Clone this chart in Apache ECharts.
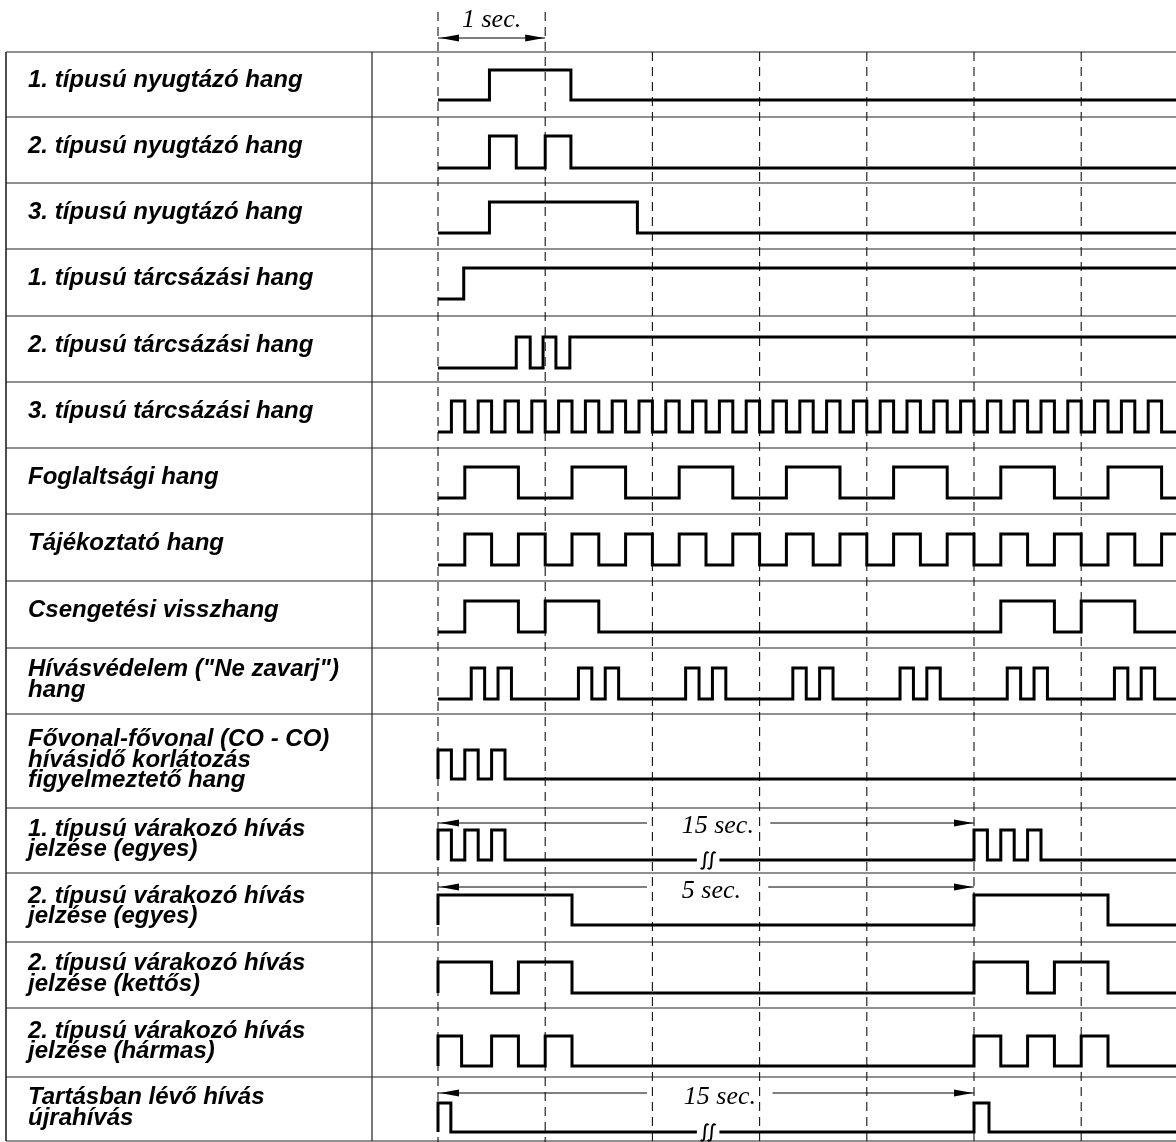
<!DOCTYPE html>
<html>
<head>
<meta charset="utf-8">
<script src="https://cdn.jsdelivr.net/npm/echarts@6/dist/echarts.min.js"></script>
<style>
  html, body { margin: 0; padding: 0; background: #fff; }
  #chart { width: 1176px; height: 1142px; }
</style>
</head>
<body>
<div id="chart"></div>
<script>
// ---- data: row names and the times (seconds) at which each signal toggles, starting low ----
const rowLabels = [
  '1. típusú nyugtázó hang',
  '2. típusú nyugtázó hang',
  '3. típusú nyugtázó hang',
  '1. típusú tárcsázási hang',
  '2. típusú tárcsázási hang',
  '3. típusú tárcsázási hang',
  'Foglaltsági hang',
  'Tájékoztató hang',
  'Csengetési visszhang',
  'Hívásvédelem ("Ne zavarj")\nhang',
  'Fővonal-fővonal (CO - CO)\nhívásidő korlátozás\nfigyelmeztető hang',
  '1. típusú várakozó hívás\njelzése (egyes)',
  '2. típusú várakozó hívás\njelzése (egyes)',
  '2. típusú várakozó hívás\njelzése (kettős)',
  '2. típusú várakozó hívás\njelzése (hármas)',
  'Tartásban lévő hívás\nújrahívás'
]

const ack1Edges = [0.48, 1.24]
const ack2Edges = [0.48, 0.73, 1.0, 1.24]
const ack3Edges = [0.48, 1.86]
const dial1Edges = [0.24]
const dial2Edges = [0.73, 0.86, 0.98, 1.1, 1.23]
const dial3Edges = [
  0.125, 0.25, 0.375, 0.5, 0.625, 0.75, 0.875, 1.0,
  1.125, 1.25, 1.375, 1.5, 1.625, 1.75, 1.875, 2.0,
  2.125, 2.25, 2.375, 2.5, 2.625, 2.75, 2.875, 3.0,
  3.125, 3.25, 3.375, 3.5, 3.625, 3.75, 3.875, 4.0,
  4.125, 4.25, 4.375, 4.5, 4.625, 4.75, 4.875, 5.0,
  5.125, 5.25, 5.375, 5.5, 5.625, 5.75, 5.875, 6.0,
  6.125, 6.25, 6.375, 6.5, 6.625, 6.75
]
const busyEdges = [0.25, 0.75, 1.25, 1.75, 2.25, 2.75, 3.25, 3.75, 4.25, 4.75, 5.25, 5.75, 6.25, 6.75]
const infoEdges = [
  0.25, 0.5, 0.75, 1.0, 1.25, 1.5, 1.75, 2.0, 2.25, 2.5, 2.75, 3.0, 3.25, 3.5,
  3.75, 4.0, 4.25, 4.5, 4.75, 5.0, 5.25, 5.5, 5.75, 6.0, 6.25, 6.5, 6.75
]
const ringbackEdges = [0.25, 0.75, 1.0, 1.5, 5.25, 5.75, 6.0, 6.5]
const dndEdges = [
  0.31, 0.435, 0.56, 0.685, 1.31, 1.435, 1.56, 1.685, 2.31, 2.435, 2.56, 2.685,
  3.31, 3.435, 3.56, 3.685, 4.31, 4.435, 4.56, 4.685, 5.31, 5.435, 5.56, 5.685,
  6.31, 6.435, 6.56, 6.685
]
const coWarnEdges = [0, 0.125, 0.25, 0.375, 0.5, 0.625]
const wait1Edges = [0, 0.125, 0.25, 0.375, 0.5, 0.625, 5.0, 5.125, 5.25, 5.375, 5.5, 5.625]
const wait2SingleEdges = [0, 1.25, 5.0, 6.25]
const wait2DoubleEdges = [0, 0.5, 0.75, 1.25, 5.0, 5.5, 5.75, 6.25]
const wait2TripleEdges = [0, 0.22, 0.5, 0.75, 1.0, 1.25, 5.0, 5.25, 5.5, 5.75, 6.0, 6.25]
const holdRecallEdges = [0, 0.12, 5.0, 5.14]

const rowEdges = [
  ack1Edges, ack2Edges, ack3Edges, dial1Edges, dial2Edges, dial3Edges, busyEdges, infoEdges,
  ringbackEdges, dndEdges, coWarnEdges, wait1Edges, wait2SingleEdges, wait2DoubleEdges,
  wait2TripleEdges, holdRecallEdges
]

const secondTicks = [0, 1, 2, 3, 4, 5, 6]
const breakRows = [11, 15]
const breakAt = 2.52

const spanRows = [-1, 11, 12, 15]
const spanLabels = ['1 sec.', '15 sec.', '5 sec.', '15 sec.']
const spanFrom = [0, 0, 0, 0]
const spanTo = [1, 5, 5, 5]

// ---- layout (page pixels) ----
const W = 1176, H = 1142
const T0_PX = 438, SEC_PX = 107.2
const X_MIN = -T0_PX / SEC_PX, X_MAX = (W - T0_PX) / SEC_PX
const pxToT = (px) => (px - T0_PX) / SEC_PX

const rowTops = [52, 117, 183, 249, 316, 382, 448, 514, 581, 648, 714, 808, 873, 942, 1008, 1077, 1141]
const highY = [70, 136, 202, 268, 337, 401, 467, 534, 601, 668, 750, 830, 895, 962, 1036, 1103]
const lowY = [100, 168, 233, 299, 368, 432, 498, 565, 632, 699, 779, 860, 925, 993, 1066, 1132]
const TABLE_LEFT_PX = 6, DIVIDER_PX = 372, LABEL_PX = 28
const BREAK_HALF = 0.105
const spanLineY = [38, 823, 887, 1093]
const spanTextY = [20, 826, 891, 1097]
const spanTextT = [0.5, 2.61, 2.55, 2.63]
const spanGap = [null, [1.95, 3.1], [1.95, 3.08], [1.95, 3.12]]

// ---- build wave polylines ----
function wavePoints(edges, lo, hi, brk) {
  const pts = [[0, lo]]
  let level = 0
  let broken = brk == null
  edges.forEach(t => {
    if (!broken && level === 0 && t > brk + BREAK_HALF) {
      pts.push([brk - BREAK_HALF, lo], ['-', '-'], [brk + BREAK_HALF, lo])
      broken = true
    }
    pts.push([t, level ? hi : lo])
    level = 1 - level
    pts.push([t, level ? hi : lo])
  })
  pts.push([X_MAX, level ? hi : lo])
  return pts
}

const waveSeries = rowEdges.map((edges, i) => ({
  type: 'line',
  name: 'wave' + i,
  data: wavePoints(edges, lowY[i], highY[i], breakRows.includes(i) ? breakAt : null),
  symbol: 'none',
  silent: true,
  z: 5,
  lineStyle: { color: '#000', width: 3, join: 'miter', cap: 'butt' }
}))

const tableSeries = {
  type: 'custom',
  silent: true,
  z: 1,
  data: [[0, 0]],
  renderItem: (params, api) => {
    const xl = api.coord([pxToT(TABLE_LEFT_PX), 0])[0]
    const xd = api.coord([pxToT(DIVIDER_PX), 0])[0]
    const xr = api.coord([X_MAX, 0])[0]
    const yt = api.coord([0, rowTops[0]])[1]
    const yb = api.coord([0, rowTops[rowTops.length - 1]])[1]
    const children = rowTops.map(r => {
      const y = api.coord([0, r])[1]
      return { type: 'line', shape: { x1: xl, y1: y, x2: xr, y2: y }, style: { stroke: '#222', lineWidth: 1.2 } }
    })
    children.push({ type: 'line', shape: { x1: xl, y1: yt, x2: xl, y2: yb }, style: { stroke: '#222', lineWidth: 1.6 } })
    children.push({ type: 'line', shape: { x1: xd, y1: yt, x2: xd, y2: yb }, style: { stroke: '#222', lineWidth: 1.2 } })
    return { type: 'group', children }
  }
}

const labelSeries = {
  type: 'custom',
  silent: true,
  z: 2,
  data: rowLabels.map((s, i) => [i, 0]),
  renderItem: (params, api) => {
    const i = api.value(0)
    const text = rowLabels[i]
    const mid = (rowTops[i] + rowTops[i + 1]) / 2 - (text.includes('\n') ? 1 : 4)
    const p = api.coord([pxToT(LABEL_PX), mid])
    return {
      type: 'text', x: p[0], y: p[1],
      style: {
        text, fill: '#000', fontSize: 24, fontStyle: 'italic', fontWeight: 'bold',
        fontFamily: '"Liberation Sans", Arial, sans-serif',
        align: 'left', verticalAlign: 'middle', lineHeight: 20.5
      }
    }
  }
}

const gridSeries = {
  type: 'custom',
  silent: true,
  z: 3,
  data: secondTicks.map(t => [t, 0]),
  renderItem: (params, api) => {
    const t = api.value(0)
    const top = t <= spanTo[0] ? 12 : rowTops[0]
    const a = api.coord([t, top]), b = api.coord([t, H])
    return {
      type: 'line', shape: { x1: a[0], y1: a[1], x2: b[0], y2: b[1] },
      style: { stroke: '#111', lineWidth: 1.1, lineDash: [9, 6] }
    }
  }
}

function arrowHead(x, y, dir) {
  return { type: 'polygon', shape: { points: [[x, y], [x - dir * 19, y - 3.5], [x - dir * 19, y + 3.5]] }, style: { fill: '#000' } }
}

const spanSeries = {
  type: 'custom',
  silent: true,
  z: 6,
  data: spanRows.map((r, i) => [i, 0]),
  renderItem: (params, api) => {
    const i = api.value(0)
    const a = api.coord([spanFrom[i], spanLineY[i]])
    const b = api.coord([spanTo[i], spanLineY[i]])
    const lineStyle = { stroke: '#000', lineWidth: 1 }
    const children = []
    if (spanGap[i]) {
      const g1 = api.coord([spanGap[i][0], spanLineY[i]])[0]
      const g2 = api.coord([spanGap[i][1], spanLineY[i]])[0]
      children.push({ type: 'line', shape: { x1: a[0], y1: a[1], x2: g1, y2: a[1] }, style: lineStyle })
      children.push({ type: 'line', shape: { x1: g2, y1: a[1], x2: b[0], y2: b[1] }, style: lineStyle })
    } else {
      children.push({ type: 'line', shape: { x1: a[0], y1: a[1], x2: b[0], y2: b[1] }, style: lineStyle })
    }
    children.push(arrowHead(a[0] + 2, a[1], -1), arrowHead(b[0] - 1, b[1], 1))
    const tp = api.coord([spanTextT[i], spanTextY[i]])
    children.push({
      type: 'text', x: tp[0], y: tp[1],
      style: {
        text: spanLabels[i], fill: '#000', fontSize: 26, fontStyle: 'italic',
        fontFamily: '"Liberation Serif", "Times New Roman", serif',
        align: 'center', verticalAlign: 'middle'
      }
    })
    return { type: 'group', children }
  }
}

// the "ʃʃ" break mark on the long waiting periods
const breakSeries = {
  type: 'custom',
  silent: true,
  z: 6,
  data: breakRows.map(r => [breakAt, lowY[r]]),
  renderItem: (params, api) => {
    const c = api.coord([api.value(0), api.value(1)])
    const s = (dx) => ({
      type: 'bezierCurve',
      shape: {
        x1: c[0] + dx + 4, y1: c[1] - 7, x2: c[0] + dx - 4, y2: c[1] + 8,
        cpx1: c[0] + dx - 3, cpy1: c[1] - 12, cpx2: c[0] + dx + 3, cpy2: c[1] + 13
      },
      style: { stroke: '#000', lineWidth: 2, fill: null }
    })
    return { type: 'group', children: [s(-3.5), s(3.5)] }
  }
}

const chart = echarts.init(document.getElementById('chart'))
chart.setOption({
  animation: false,
  backgroundColor: '#fff',
  grid: { left: 0, right: 0, top: 0, bottom: 0 },
  xAxis: { type: 'value', min: X_MIN, max: X_MAX, show: false },
  yAxis: { type: 'value', min: 0, max: H, inverse: true, show: false },
  series: [tableSeries, gridSeries, labelSeries, ...waveSeries, spanSeries, breakSeries]
})
window.addEventListener('resize', () => chart.resize())
</script>
</body>
</html>
